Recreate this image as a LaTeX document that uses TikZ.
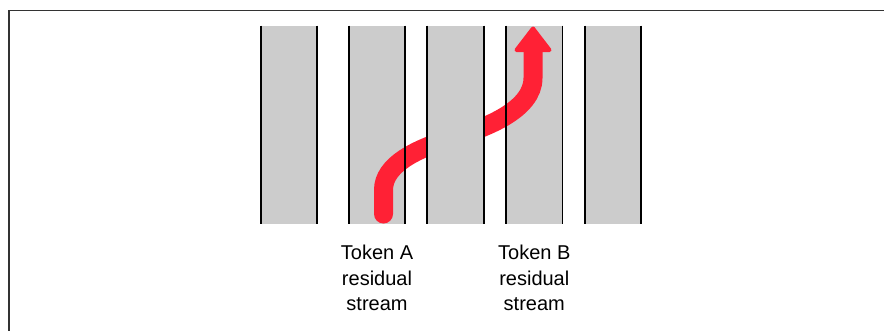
\documentclass[tikz,border=0pt]{standalone}
\usepackage{fontspec}
\setmainfont{Liberation Sans}
\definecolor{colgray}{HTML}{CCCCCC}
\definecolor{streamred}{HTML}{FF2135}
\definecolor{framegray}{HTML}{333333}
\begin{document}
\begin{tikzpicture}[x=0.75pt,y=-0.75pt,
  colbox/.style={rectangle,fill=colgray,draw=none,inner sep=0pt,
    minimum width=41.8pt,minimum height=148.5pt},
  colline/.style={black,line width=1.4pt},
  flow/.style={streamred,line width=14.25pt},
  label/.style={align=center,inner sep=0pt,anchor=north,
    font=\fontsize{15}{19.2}\selectfont}]
\useasboundingbox (0,0) rectangle (884,330);
% frame
\draw[framegray,line width=0.8pt] (9,332) -- (9,10.5) -- (886,10.5);
% column fills
\node[colbox] (c1) at (288.85,125) {};
\node[colbox] (c2) at (376.85,125) {};
\node[colbox] (c4) at (534.35,125) {};
\node[colbox] (c5) at (613.15,125) {};
% red stream
\coordinate (s) at (383.5,214);
\coordinate (m) at (455,137);
\coordinate (e) at (533,50);
\draw[flow,line cap=round] (s) -- (383.5,190) .. controls (383.5,165) and (415,149) .. (m)
  .. controls (485,128) and (533,110) .. (533,78) -- (e);
\fill[streamred,draw=streamred,line width=3pt,line join=round] (516.5,50) -- (549.5,50) -- (533,28.5) -- cycle;
% column 3 on top of the stream
\node[colbox] (c3) at (455.5,125) {};
% column lines
\foreach \c in {c1,c2,c3,c4,c5}{
  \draw[colline] (\c.north west) -- (\c.south west);
  \draw[colline] (\c.north east) -- (\c.south east);
}
% labels
\node[label] (la) at (377,245) {Token A\\residual\\stream};
\node[label] (lb) at (534.3,245) {Token B\\residual\\stream};
\end{tikzpicture}
\end{document}
